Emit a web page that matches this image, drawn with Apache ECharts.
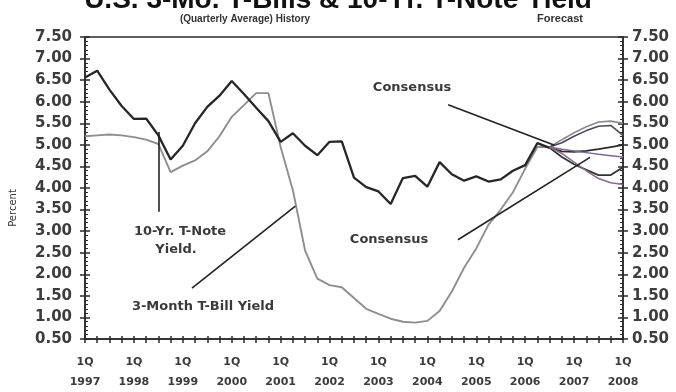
<!DOCTYPE html>
<html>
<head>
<meta charset="utf-8">
<script src="https://cdn.jsdelivr.net/npm/echarts@6/dist/echarts.min.js"></script>
<style>
  html, body { margin: 0; padding: 0; background: #ffffff; }
  #chart { width: 676px; height: 392px; }
</style>
</head>
<body>
<div id="chart"></div>
<script>
// Quarterly averages, 1Q 1997 = quarter 0 ... 3Q 2006 = quarter 38
const yearLabels = ['1997', '1998', '1999', '2000', '2001', '2002', '2003', '2004', '2005', '2006', '2007', '2008'];

const tenYearNote = [
  6.56, 6.72, 6.28, 5.90,
  5.60, 5.61, 5.22, 4.66,
  4.98, 5.50, 5.88, 6.14,
  6.48, 6.18, 5.86, 5.55,
  5.07, 5.27, 4.98, 4.76,
  5.07, 5.08, 4.24, 4.02,
  3.92, 3.63, 4.23, 4.28,
  4.03, 4.60, 4.32, 4.17,
  4.27, 4.15, 4.20, 4.40,
  4.53, 5.04, 4.93
];

const threeMonthBill = [
  5.20, 5.22, 5.24, 5.22,
  5.18, 5.12, 5.02, 4.37,
  4.52, 4.64, 4.85, 5.20,
  5.65, 5.92, 6.20, 6.20,
  4.95, 3.95, 2.55, 1.90,
  1.75, 1.70, 1.45, 1.20,
  1.08, 0.97, 0.90, 0.88,
  0.92, 1.15, 1.60, 2.15,
  2.60, 3.15, 3.50, 3.90,
  4.45, 4.95, 4.95
];

// Forecast paths, 3Q 2006 through 1Q 2008
const forecastStart = 38;
const forecastA = [4.95, 5.12, 5.28, 5.42, 5.53, 5.55, 5.50];
const forecastB = [4.95, 5.05, 5.20, 5.33, 5.43, 5.45, 5.22];
const forecastC = [4.93, 4.85, 4.84, 4.86, 4.90, 4.95, 5.00];
const forecastD = [4.95, 4.90, 4.86, 4.82, 4.78, 4.75, 4.72];
const forecastE = [4.93, 4.72, 4.55, 4.42, 4.30, 4.30, 4.48];
const forecastF = [4.95, 4.80, 4.60, 4.40, 4.22, 4.12, 4.08];

const toPoints = (values, start) => values.map((v, i) => [start + i, v]);

const AXIS_COLOR = '#2a2a2a';
const LABEL_COLOR = '#3c3c3c';
const yBase = { type: 'value', min: 0.5, max: 7.5, interval: 0.5, splitLine: { show: false } };
const xBase = { type: 'value', min: 0, max: 44, interval: 1, splitLine: { show: false } };

const lineSeries = (name, values, start, color, width) => ({
  name, type: 'line', data: toPoints(values, start), showSymbol: false, symbol: 'none',
  lineStyle: { color, width }, z: 3, animation: false
});

const pointerStyle = { color: '#222', width: 1.6, type: 'solid' };
const noteFont = 'bold 13px "DejaVu Sans"';

const chart = echarts.init(document.getElementById('chart'), null, { renderer: 'canvas' });

chart.setOption({
  animation: false,
  backgroundColor: '#ffffff',
  grid: { left: 85, right: 53, top: 37, bottom: 51, show: true, borderColor: AXIS_COLOR, borderWidth: 1.5 },
  xAxis: [
    Object.assign({}, xBase, {
      position: 'bottom',
      axisLine: { show: true, lineStyle: { color: AXIS_COLOR, width: 1.5 } },
      axisTick: { show: true, inside: false, length: 4, lineStyle: { color: AXIS_COLOR, width: 1.5 } },
      axisLabel: {
        margin: 13, color: LABEL_COLOR, fontFamily: 'DejaVu Sans', fontWeight: 'bold', fontSize: 11, lineHeight: 20,
        formatter: v => (v % 4 === 0 ? '1Q\n' + yearLabels[v / 4] : '')
      }
    }),
    Object.assign({}, xBase, {
      position: 'bottom',
      axisLine: { show: false },
      axisTick: { show: true, inside: true, length: 3, lineStyle: { color: AXIS_COLOR, width: 1.5 } },
      axisLabel: { show: false }
    })
  ],
  yAxis: [
    Object.assign({}, yBase, {
      position: 'left',
      axisLine: { show: true, lineStyle: { color: AXIS_COLOR, width: 1.5 } },
      axisTick: { show: true, inside: false, length: 5, lineStyle: { color: AXIS_COLOR, width: 1.5 } },
      axisLabel: { margin: 13, color: LABEL_COLOR, fontFamily: 'DejaVu Sans', fontWeight: 'bold', fontSize: 15, formatter: v => v.toFixed(2) }
    }),
    Object.assign({}, yBase, {
      position: 'left',
      axisLine: { show: false },
      axisTick: { show: true, inside: true, length: 5, lineStyle: { color: AXIS_COLOR, width: 1.5 } },
      minorTick: { show: true, splitNumber: 5, length: 3, lineStyle: { color: AXIS_COLOR, width: 1 } },
      axisLabel: { show: false }
    }),
    Object.assign({}, yBase, {
      position: 'right',
      axisLine: { show: true, lineStyle: { color: AXIS_COLOR, width: 1.5 } },
      axisTick: { show: true, inside: false, length: 5, lineStyle: { color: AXIS_COLOR, width: 1.5 } },
      axisLabel: { margin: 9, color: LABEL_COLOR, fontFamily: 'DejaVu Sans', fontWeight: 'bold', fontSize: 15, formatter: v => v.toFixed(2) }
    }),
    Object.assign({}, yBase, {
      position: 'right',
      axisLine: { show: false },
      axisTick: { show: true, inside: true, length: 5, lineStyle: { color: AXIS_COLOR, width: 1.5 } },
      minorTick: { show: true, splitNumber: 5, length: 3, lineStyle: { color: AXIS_COLOR, width: 1 } },
      axisLabel: { show: false }
    })
  ],
  series: [
    Object.assign(lineSeries('3-Month T-Bill Yield', threeMonthBill, 0, '#8e8e8e', 1.9), {
      markLine: {
        silent: true, symbol: 'none', label: { show: false }, lineStyle: pointerStyle,
        data: [
          [{ coord: [8.75, 1.68] }, { coord: [17.2, 3.58] }],
          [{ coord: [30.5, 2.80] }, { coord: [41.3, 4.71] }]
        ]
      }
    }),
    Object.assign(lineSeries('10-Yr. T-Note Yield', tenYearNote, 0, '#262626', 2.3), {
      markLine: {
        silent: true, symbol: 'none', label: { show: false }, lineStyle: pointerStyle,
        data: [
          [{ coord: [6, 5.30] }, { coord: [6, 3.45] }],
          [{ coord: [29.7, 5.93] }, { coord: [38.4, 4.99] }],
          [{ coord: [38.9, 7.5] }, { coord: [38.9, 0.25] }]
        ]
      }
    }),
    lineSeries('Forecast A', forecastA, forecastStart, '#8a8a8a', 1.6),
    lineSeries('Forecast B', forecastB, forecastStart, '#4e4660', 1.6),
    lineSeries('Forecast C', forecastC, forecastStart, '#2b2b2b', 1.8),
    lineSeries('Forecast D', forecastD, forecastStart, '#7a6a94', 1.5),
    lineSeries('Forecast E', forecastE, forecastStart, '#333333', 1.8),
    lineSeries('Forecast F', forecastF, forecastStart, '#8a6a88', 1.5)
  ],
  graphic: [
    { type: 'text', left: 'center', top: -14, style: { text: 'U.S. 3-Mo. T-Bills & 10-Yr. T-Note Yield', font: 'bold 28px "Liberation Sans"', fill: '#111' } },
    { type: 'text', x: 245, y: 19, style: { text: '(Quarterly Average) History', font: 'bold 10px "Liberation Sans"', fill: '#333', textAlign: 'center', textVerticalAlign: 'middle' } },
    { type: 'text', x: 560, y: 19, style: { text: 'Forecast', font: 'bold 11px "Liberation Sans"', fill: '#333', textAlign: 'center', textVerticalAlign: 'middle' } },
    { type: 'text', x: 13, y: 208, rotation: Math.PI / 2, style: { text: 'Percent', font: '10px "DejaVu Sans"', fill: '#333', textAlign: 'center', textVerticalAlign: 'middle' } },
    { type: 'text', x: 412, y: 88, style: { text: 'Consensus', font: noteFont, fill: '#3a3a3a', textAlign: 'center', textVerticalAlign: 'middle' } },
    { type: 'text', x: 389, y: 240, style: { text: 'Consensus', font: noteFont, fill: '#3a3a3a', textAlign: 'center', textVerticalAlign: 'middle' } },
    { type: 'text', x: 180, y: 232, style: { text: '10-Yr. T-Note', font: noteFont, fill: '#3a3a3a', textAlign: 'center', textVerticalAlign: 'middle' } },
    { type: 'text', x: 176, y: 250, style: { text: 'Yield.', font: noteFont, fill: '#3a3a3a', textAlign: 'center', textVerticalAlign: 'middle' } },
    { type: 'text', x: 203, y: 307, style: { text: '3-Month T-Bill Yield', font: noteFont, fill: '#3a3a3a', textAlign: 'center', textVerticalAlign: 'middle' } }
  ]
});
</script>
</body>
</html>
